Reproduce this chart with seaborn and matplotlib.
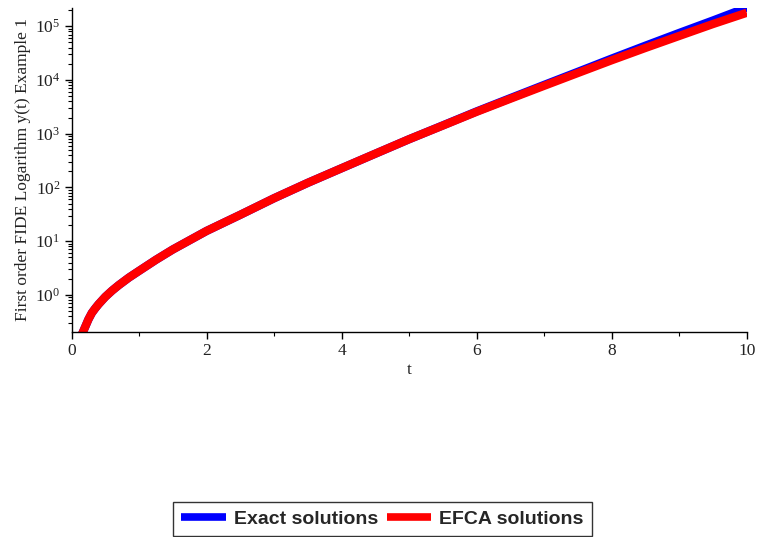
import numpy as np
import pandas as pd
import matplotlib
matplotlib.use("Agg")
import matplotlib.pyplot as plt
import seaborn as sns
from matplotlib.ticker import LogLocator, FixedLocator, MultipleLocator, NullFormatter

# Solution values y(t) of the first order FIDE, example 1
t_values = [0.14, 0.17, 0.2, 0.25, 0.3, 0.35, 0.4, 0.5, 0.6, 0.7, 0.85, 1.0, 1.25,
            1.5, 2.0, 2.5, 3.0, 3.5, 4.0, 4.5, 5.0, 5.5, 6.0, 6.5, 7.0, 7.5,
            8.0, 8.5, 9.0, 9.5, 10.0]
exact_values = [0.17, 0.205, 0.25, 0.35, 0.46, 0.56, 0.67, 0.92, 1.2, 1.52, 2.1,
                2.8, 4.5, 7.0, 15.5, 31, 63, 122, 228, 425, 790, 1430, 2600,
                4600, 8100, 14200, 25000, 43500, 75000, 128000, 222000]
efca_values = [0.17, 0.205, 0.25, 0.35, 0.46, 0.56, 0.67, 0.92, 1.2, 1.52, 2.1,
               2.8, 4.5, 7.0, 15.5, 31, 63, 122, 228, 425, 790, 1420, 2560,
               4480, 7800, 13500, 23300, 39500, 66000, 110000, 178000]
series_names = ["Exact solutions", "EFCA solutions"]
series_colors = ["#0000ff", "#ff0000"]

x_ticks = [0, 2, 4, 6, 8, 10]
y_decades = [1e0, 1e1, 1e2, 1e3, 1e4, 1e5]
y_tick_labels = [r"$10^{0}$", r"$10^{1}$", r"$10^{2}$", r"$10^{3}$", r"$10^{4}$", r"$10^{5}$"]

sns.set_theme(style="white")
plt.rcParams["font.family"] = ["Liberation Serif", "DejaVu Serif"]
plt.rcParams["mathtext.fontset"] = "custom"
plt.rcParams["mathtext.rm"] = "Liberation Serif"
plt.rcParams["mathtext.it"] = "Liberation Serif:italic"

df = pd.DataFrame({
    "t": t_values * 2,
    "y": exact_values + efca_values,
    "series": [series_names[0]] * len(t_values) + [series_names[1]] * len(t_values),
})

fig = plt.figure(figsize=(7.57, 5.37), dpi=100)
ax = fig.add_axes([0.0945, 0.382, 0.892, 0.604])

sns.lineplot(data=df, x="t", y="y", hue="series", hue_order=series_names,
             palette=series_colors, linewidth=6.0, legend=False, ax=ax,
             solid_capstyle="butt", solid_joinstyle="round")

ax.set_yscale("log")
ax.set_xlim(0, 10)
ax.set_ylim(0.205, 2.23e5)

for side in ["top", "right"]:
    ax.spines[side].set_visible(False)
for side in ["left", "bottom"]:
    ax.spines[side].set_color("black")
    ax.spines[side].set_linewidth(1.0)

ax.xaxis.set_major_locator(FixedLocator(x_ticks))
ax.xaxis.set_minor_locator(MultipleLocator(1))
ax.set_xticklabels([str(v) for v in x_ticks])
ax.yaxis.set_major_locator(FixedLocator(y_decades))
ax.set_yticklabels(y_tick_labels)
ax.yaxis.set_minor_locator(LogLocator(base=10, subs=np.arange(2, 10)))
ax.yaxis.set_minor_formatter(NullFormatter())

ax.tick_params(axis="both", which="major", direction="out", length=5, width=1,
               color="black", labelsize=12.5, labelcolor="#222222", pad=3,
               left=True, bottom=True)
ax.tick_params(axis="both", which="minor", direction="out", length=3, width=0.8,
               color="black", left=True, bottom=True)

ax.set_xlabel("t", fontsize=12.5, color="#222222", labelpad=2)
ax.set_ylabel("First order FIDE Logarithm y(t) Example 1", fontsize=12.5,
              color="#222222", labelpad=3)

handles = [plt.Line2D([], [], color=c, linewidth=5.5, solid_capstyle="butt")
           for c in series_colors]
leg = fig.legend(handles, series_names, loc="lower center",
                 bbox_to_anchor=(0.505, 0.0), ncol=2, frameon=True,
                 fancybox=False, edgecolor="black", handlelength=2.3,
                 handletextpad=0.4, columnspacing=0.45, borderpad=0.42,
                 borderaxespad=0.05,
                 prop={"family": "Liberation Sans", "weight": "bold", "size": 14})
leg.get_frame().set_linewidth(1.0)

fig.savefig("out.png", dpi=100, facecolor="white")
